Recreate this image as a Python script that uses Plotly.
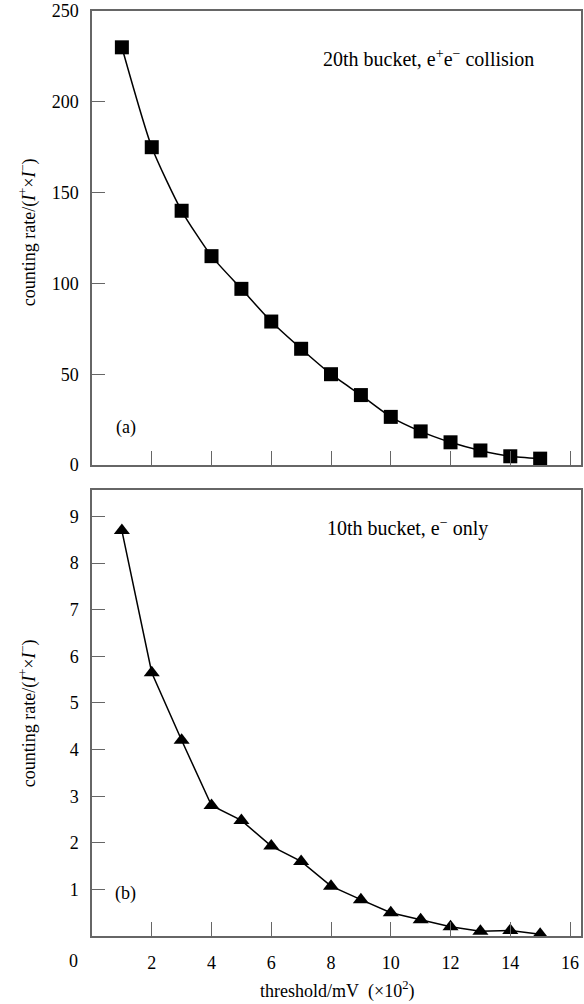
import plotly.graph_objects as go

# data
threshold = [1, 2, 3, 4, 5, 6, 7, 8, 9, 10, 11, 12, 13, 14, 15]
rate_a = [230, 175, 140, 115, 97, 79, 64, 50, 38.5, 26.5, 18.5, 12.5, 8, 4.8, 3.5]
rate_b = [8.7, 5.65, 4.2, 2.8, 2.48, 1.93, 1.6, 1.07, 0.78, 0.5, 0.35, 0.2, 0.1, 0.12, 0.04]
x_ticks = [2, 4, 6, 8, 10, 12, 14, 16]
ya_ticks = [0, 50, 100, 150, 200, 250]
yb_ticks = [1, 2, 3, 4, 5, 6, 7, 8, 9]

FONT = "Liberation Serif, Times New Roman, Times, serif"
W, H = 584, 1004
ML, MR, MT, MB = 92, 1, 11, 68
PW = W - ML - MR
PH = H - MT - MB

def py(pix):  # pixel y -> paper y
    return (H - MB - pix) / PH

def px(pix):
    return (pix - ML) / PW

fig = go.Figure()
fig.add_trace(go.Scatter(x=threshold, y=rate_a, mode="lines+markers",
                         line=dict(color="black", width=1.5, shape="spline", smoothing=0.6),
                         marker=dict(symbol="square", size=14, color="black"),
                         xaxis="x2", yaxis="y2", showlegend=False))
fig.add_trace(go.Scatter(x=threshold, y=rate_b, mode="lines+markers",
                         line=dict(color="black", width=1.5),
                         marker=dict(symbol="triangle-up", size=14, color="black"),
                         xaxis="x", yaxis="y", showlegend=False))

axcol = "#666666"
common_x = dict(range=[0, PW / 30.0], tickvals=x_ticks, ticks="inside", ticklen=14,
                tickcolor=axcol, tickwidth=1.2, showline=True, linecolor=axcol, linewidth=1.5,
                mirror=True, showgrid=False, zeroline=False,
                tickfont=dict(family=FONT, size=18, color="black"))
common_y = dict(ticks="inside", ticklen=13, tickcolor=axcol, tickwidth=1.2,
                showline=True, linecolor=axcol, linewidth=1.5, mirror=True,
                showgrid=False, zeroline=False, ticklabelstandoff=8,
                tickfont=dict(family=FONT, size=18, color="black"))

top_lo = py(465)
bot_hi = py(490)

fig.update_layout(
    width=W, height=H,
    margin=dict(l=ML, r=MR, t=MT, b=MB),
    paper_bgcolor="white", plot_bgcolor="white",
    font=dict(family=FONT, size=18, color="black"),
    xaxis=dict(**common_x, anchor="y", ticklabelstandoff=10),
    yaxis=dict(**common_y, domain=[0, bot_hi], range=[0, 9.57], tickvals=yb_ticks, anchor="x"),
    xaxis2=dict(**common_x, anchor="y2", showticklabels=False, matches="x"),
    yaxis2=dict(**common_y, domain=[top_lo, 1], range=[0, 250], tickvals=ya_ticks, anchor="x2"),
)

ylab = "counting rate/(<i>I</i><sup>+</sup>×<i>I</i><sup>−</sup>)"
ann = [
    dict(text=ylab, x=px(28), y=py(232), textangle=-90, size=18),
    dict(text=ylab, x=px(28), y=py(713), textangle=-90, size=18),
    dict(text="20th bucket, e<sup>+</sup>e<sup>−</sup> collision", x=px(430), y=py(58), size=20),
    dict(text="(a)", x=px(126), y=py(428), size=18),
    dict(text="10th bucket, e<sup>−</sup> only", x=px(409), y=py(527), size=20),
    dict(text="(b)", x=px(126), y=py(893), size=18),
    dict(text="0", x=px(73), y=py(961), size=18),
    dict(text="threshold/mV\u00a0\u00a0(×10<sup>2</sup>)", x=px(338), y=py(990), size=18),
]
for a in ann:
    s = a.pop("size")
    fig.add_annotation(xref="paper", yref="paper", showarrow=False,
                       xanchor="center", yanchor="middle",
                       font=dict(family=FONT, size=s, color="black"), **a)

fig.write_html("out.html")
